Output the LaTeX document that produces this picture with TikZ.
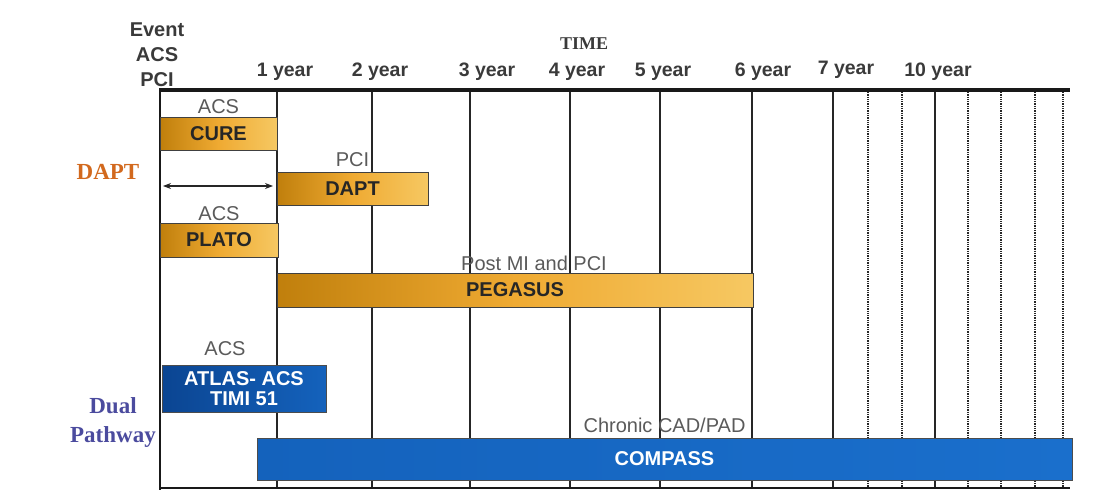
\documentclass[tikz,border=0pt]{standalone}
\usepackage{fontspec}
\setmainfont{Liberation Sans}
\newfontfamily\headserif{Liberation Serif}
\usetikzlibrary{arrows.meta, positioning}

\definecolor{golddark}{HTML}{C07F0C}
\definecolor{goldmid}{HTML}{EFAA32}
\definecolor{goldlight}{HTML}{F6C862}
\definecolor{bluedark}{HTML}{0B4592}
\definecolor{bluemid}{HTML}{1462BC}
\definecolor{bluelight}{HTML}{1A6FCC}
\definecolor{yeargray}{HTML}{3A3A3A}
\definecolor{notegray}{HTML}{5A5A5A}
\definecolor{daptorange}{HTML}{D2691E}
\definecolor{dualblue}{HTML}{4B4B9E}

\begin{document}
\begin{tikzpicture}[
  x=1pt, y=-1pt,
  goldbar/.style={draw=black!75, line width=1pt, left color=golddark, right color=goldlight,
                  middle color=goldmid, font=\fontsize{20}{22}\selectfont\bfseries,
                  text=black!85, inner sep=0pt},
  bluebar/.style={draw=black!70, line width=1pt, left color=bluedark, right color=bluemid,
                  font=\fontsize{20}{20}\selectfont\bfseries, text=white, inner sep=0pt, align=center},
  note/.style={font=\fontsize{20}{22}\selectfont, text=notegray, inner sep=1pt},
  yearlbl/.style={font=\fontsize{19.5}{21}\selectfont\bfseries, text=yeargray, inner sep=0pt},
  grouplbl/.style={font=\headserif\fontsize{23}{29}\selectfont\bfseries, align=center, inner sep=0pt},
  gridline/.style={line width=1.2pt, black!85},
  dotline/.style={line width=1.3pt, densely dotted, black!85},
  every node/.style={font=\small}
]
  \useasboundingbox (0,0) rectangle (1113,492);

  % Time grid
  \foreach \x in {277,372,470,570,660,752,833,935}
    \draw[gridline] (\x,90) -- (\x,488);
  \foreach \x in {868,902,968,1001,1035,1063}
    \draw[dotline] (\x,92) -- (\x,488);
  \draw[line width=3.5pt, black!90] (160,90) -- (1070,90);
  \draw[line width=1.8pt, black!90] (160,88) -- (160,490);
  \draw[line width=1.5pt, black!90] (160,488) -- (1070,488);

  % Header
  \node[yearlbl, align=center, font=\fontsize{20}{25}\selectfont\bfseries] (event) at (157,55) {Event\\ACS\\PCI};
  \node[font=\headserif\fontsize{18}{20}\selectfont\bfseries, text=yeargray] (time) at (584,44) {TIME};
  \node[yearlbl] (y1)  at (285,72) {1 year};
  \node[yearlbl] (y2)  at (380,72) {2 year};
  \node[yearlbl] (y3)  at (487,72) {3 year};
  \node[yearlbl] (y4)  at (577,72) {4 year};
  \node[yearlbl] (y5)  at (663,72) {5 year};
  \node[yearlbl] (y6)  at (763,72) {6 year};
  \node[yearlbl] (y7)  at (846,70) {7 year};
  \node[yearlbl] (y10) at (938,72) {10 year};

  % Group labels
  \node[grouplbl, text=daptorange] (grpdapt) at (108,172) {DAPT};
  \node[grouplbl, text=dualblue]   (grpdual) at (113,422) {Dual\\Pathway};

  % DAPT trials
  \node[goldbar, minimum width=117pt, minimum height=32pt] (cure) at (218.5,134) {CURE};
  \node[note, above=3pt of cure] (curenote) {ACS};

  \node[goldbar, minimum width=151pt, minimum height=33pt] (dapt) at (352.5,188.5) {DAPT};
  \node[note, above=4pt of dapt] (daptnote) {PCI};

  \coordinate (arrL) at (163,186);
  \coordinate (arrR) at (273,186);
  \draw[{Stealth[length=8pt]}-{Stealth[length=8pt]}, line width=1.2pt, black!85] (arrL) -- (arrR);

  \node[goldbar, minimum width=118pt, minimum height=34pt] (plato) at (219,240) {PLATO};
  \node[note, above=1pt of plato] (platonote) {ACS};

  \node[goldbar, minimum width=476pt, minimum height=34pt] (pegasus) at (515,290) {PEGASUS};
  \node[note, above=1pt of pegasus.north, xshift=19pt] (pegasusnote) {Post MI and PCI};

  % Dual pathway trials
  \node[bluebar, minimum width=164pt, minimum height=47pt] (atlas) at (244,388.5) {ATLAS- ACS\\TIMI 51};
  \node[note, above=8pt of atlas, xshift=-19pt] (atlasnote) {ACS};

  \node[bluebar, left color=bluemid, right color=bluelight,
        minimum width=815pt, minimum height=42pt] (compass) at (664.5,459) {COMPASS};
  \node[note, above=4pt of compass] (compassnote) {Chronic CAD/PAD};
\end{tikzpicture}
\end{document}
